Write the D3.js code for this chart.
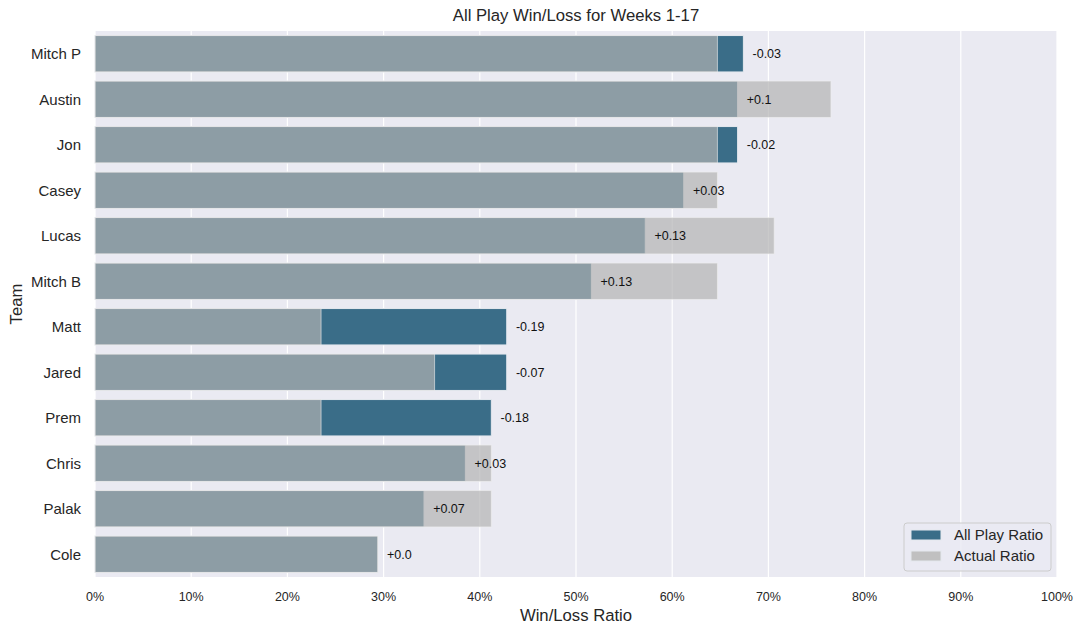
<!DOCTYPE html>
<html>
<head>
<meta charset="utf-8">
<script src="https://cdn.jsdelivr.net/npm/d3@7"></script>
<style>
  body { margin: 0; background: #fff; }
  text { font-family: "Liberation Sans", Arial, sans-serif; fill: #262626; }
</style>
</head>
<body>
<div id="chart"></div>
<script>
// data
const teams = ["Mitch P", "Austin", "Jon", "Casey", "Lucas", "Mitch B", "Matt", "Jared", "Prem", "Chris", "Palak", "Cole"];
const allPlay = [0.674, 0.668, 0.668, 0.612, 0.572, 0.516, 0.428, 0.428, 0.412, 0.385, 0.342, 0.294];
const actual = [0.647, 0.765, 0.647, 0.647, 0.706, 0.647, 0.235, 0.353, 0.235, 0.412, 0.412, 0.294];
const diffLabels = ["-0.03", "+0.1", "-0.02", "+0.03", "+0.13", "+0.13", "-0.19", "-0.07", "-0.18", "+0.03", "+0.07", "+0.0"];
const xTicks = [0, 0.1, 0.2, 0.3, 0.4, 0.5, 0.6, 0.7, 0.8, 0.9, 1.0];

const width = 1084, height = 634;
const margin = { top: 31, right: 27, bottom: 57, left: 95 };

const svg = d3.select('#chart').append('svg')
    .attr('width', width)
    .attr('height', height)
    .style('display', 'block');

const x = d3.scaleLinear()
    .domain([0, 1])
    .range([margin.left, width - margin.right]);

const y = d3.scaleBand()
    .domain(teams)
    .range([margin.top, height - margin.bottom])
    .paddingInner(0.2)
    .paddingOuter(0.1);

// plot background
svg.append('rect')
    .attr('x', margin.left)
    .attr('y', margin.top)
    .attr('width', width - margin.left - margin.right)
    .attr('height', height - margin.top - margin.bottom)
    .attr('fill', '#eaeaf2');

// grid
svg.append('g')
    .selectAll('line')
    .data(xTicks)
    .join('line')
    .attr('x1', d => x(d)).attr('x2', d => x(d))
    .attr('y1', margin.top).attr('y2', height - margin.bottom)
    .attr('stroke', '#fff')
    .attr('stroke-width', 1.2);

// all play bars
svg.append('g')
    .selectAll('rect')
    .data(teams)
    .join('rect')
    .attr('x', x(0))
    .attr('y', d => y(d))
    .attr('width', (d, i) => x(allPlay[i]) - x(0))
    .attr('height', y.bandwidth())
    .attr('fill', '#3a6d88')
    .attr('stroke', '#e4e8ee')
    .attr('stroke-width', 1);

// actual bars (semi transparent on top)
svg.append('g')
    .selectAll('rect')
    .data(teams)
    .join('rect')
    .attr('x', x(0))
    .attr('y', d => y(d))
    .attr('width', (d, i) => x(actual[i]) - x(0))
    .attr('height', y.bandwidth())
    .attr('fill', '#b2b2b2')
    .attr('fill-opacity', 0.69)
    .attr('stroke', '#f0f0f0')
    .attr('stroke-opacity', 0.6)
    .attr('stroke-width', 1);

// diff labels
svg.append('g')
    .selectAll('text')
    .data(teams)
    .join('text')
    .attr('x', (d, i) => x(allPlay[i] + 0.0095))
    .attr('y', d => y(d) + y.bandwidth() / 2)
    .attr('dy', '0.35em')
    .style('font-size', '12.5px')
    .style('fill', '#111')
    .text((d, i) => diffLabels[i]);

// axes
svg.append('g')
    .selectAll('text')
    .data(teams)
    .join('text')
    .attr('x', margin.left - 14)
    .attr('y', d => y(d) + y.bandwidth() / 2)
    .attr('dy', '0.35em')
    .attr('text-anchor', 'end')
    .style('font-size', '15px')
    .text(d => d);

svg.append('g')
    .selectAll('text')
    .data(xTicks)
    .join('text')
    .attr('x', d => x(d))
    .attr('y', height - margin.bottom + 20)
    .attr('dy', '0.35em')
    .attr('text-anchor', 'middle')
    .style('font-size', '12.5px')
    .text(d => d3.format('.0%')(d));

svg.append('text')
    .attr('x', (margin.left + width - margin.right) / 2)
    .attr('y', 615)
    .attr('dy', '0.35em')
    .attr('text-anchor', 'middle')
    .style('font-size', '16.7px')
    .text('Win/Loss Ratio');

svg.append('text')
    .attr('transform', `translate(16,${(margin.top + height - margin.bottom) / 2}) rotate(-90)`)
    .attr('dy', '0.35em')
    .attr('text-anchor', 'middle')
    .style('font-size', '16.7px')
    .text('Team');

svg.append('text')
    .attr('x', (margin.left + width - margin.right) / 2)
    .attr('y', 15)
    .attr('dy', '0.35em')
    .attr('text-anchor', 'middle')
    .style('font-size', '16.7px')
    .text('All Play Win/Loss for Weeks 1-17');

// legend
const legend = svg.append('g').attr('transform', 'translate(904,523)');
legend.append('rect')
    .attr('width', 147).attr('height', 48)
    .attr('rx', 3)
    .attr('fill', '#eaeaf2')
    .attr('fill-opacity', 0.8)
    .attr('stroke', '#cccccc');
const legendItems = ['All Play Ratio', 'Actual Ratio'];
const legendColors = ['#3a6d88', '#c0c0c0'];
legendItems.forEach((name, i) => {
    legend.append('rect')
        .attr('x', 7).attr('y', 7 + i * 21)
        .attr('width', 30).attr('height', 10)
        .attr('fill', legendColors[i])
        .attr('stroke', '#e4e8ee');
    legend.append('text')
        .attr('x', 50).attr('y', 12 + i * 21)
        .attr('dy', '0.35em')
        .style('font-size', '15px')
        .text(name);
});
</script>
</body>
</html>
